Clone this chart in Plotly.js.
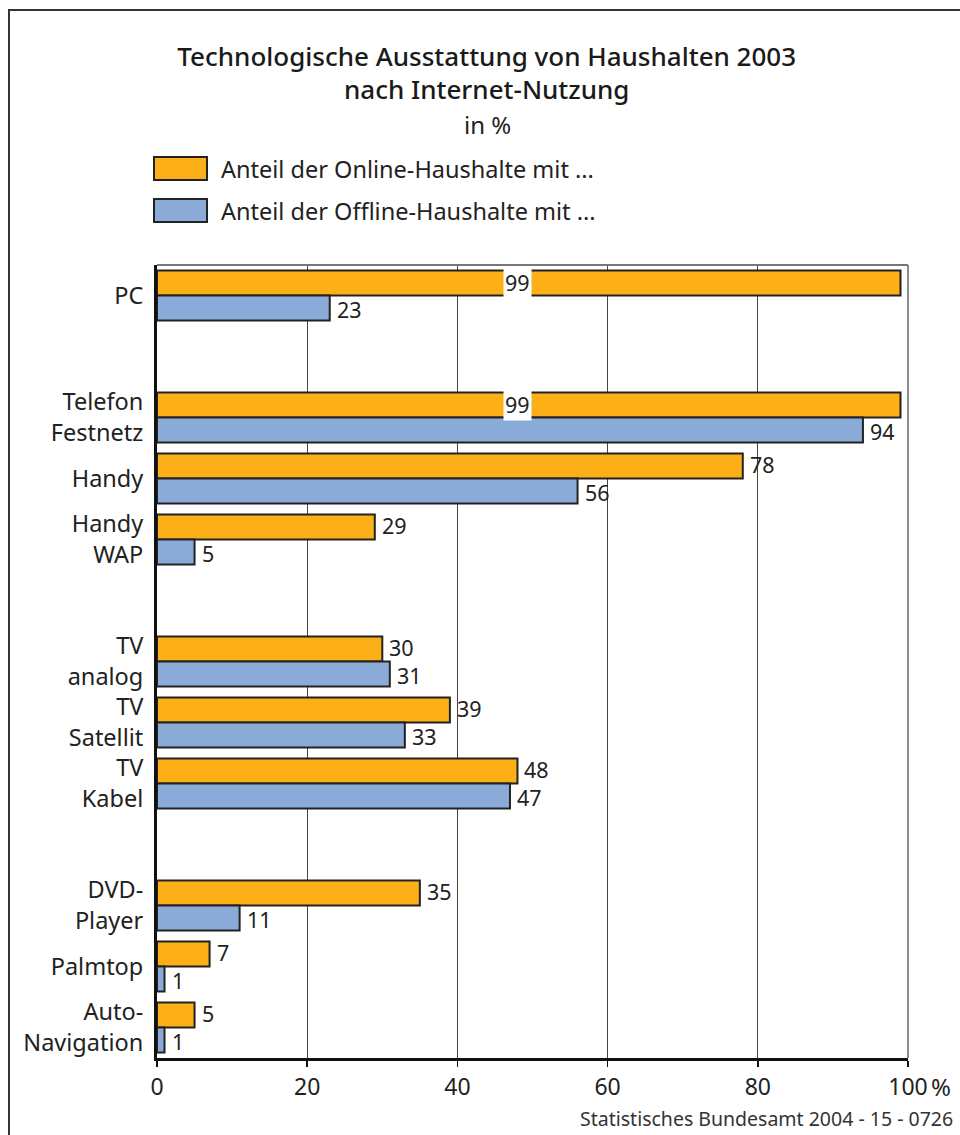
<!DOCTYPE html>
<html>
<head>
<meta charset="utf-8">
<script src="https://cdn.plot.ly/plotly-3.0.1.min.js"></script>
<style>html,body{margin:0;padding:0;background:#fff;}#chart{width:960px;height:1135px;}</style>
</head>
<body>
<div id="chart"></div>
<script>
// ---- data ----
const categories = ["PC", "Telefon<br>Festnetz", "Handy", "Handy<br>WAP", "TV<br>analog", "TV<br>Satellit", "TV<br>Kabel", "DVD-<br>Player", "Palmtop", "Auto-<br>Navigation"];
const axisOrder = ["PC", " ", "Telefon<br>Festnetz", "Handy", "Handy<br>WAP", "  ", "TV<br>analog", "TV<br>Satellit", "TV<br>Kabel", "   ", "DVD-<br>Player", "Palmtop", "Auto-<br>Navigation"];
const onlineValues = [99, 99, 78, 29, 30, 39, 48, 35, 7, 5];
const offlineValues = [23, 94, 56, 5, 31, 33, 47, 11, 1, 1];
const seriesNames = ["Anteil der Online-Haushalte mit ...", "Anteil der Offline-Haushalte mit ..."];
const seriesColors = ["#fcaf17", "#8aabd8"];
const xTickVals = [0, 20, 40, 60, 80, 100];
const xTickText = ["0", "20", "40", "60", "80", "100"];
const titleText = "Technologische Ausstattung von Haushalten 2003<br>nach Internet-Nutzung";
const subtitleText = "in %";
const sourceText = "Statistisches Bundesamt 2004 - 15 - 0726";

const FONT = "Noto Sans, Open Sans, sans-serif";
const TXT = "#222";

const traces = [onlineValues, offlineValues].map((vals, i) => ({
  type: "bar",
  orientation: "h",
  name: seriesNames[i],
  x: vals,
  y: categories,
  marker: {color: seriesColors[i], line: {color: "#222", width: 2}},
  hoverinfo: "x+y",
  showlegend: false
}));

const annotations = [];
[onlineValues, offlineValues].forEach((vals, i) => {
  const shift = i === 0 ? 14 : -14;
  vals.forEach((v, j) => {
    if (v >= 95) {
      annotations.push({x: v / 2 - 1.5, y: categories[j], xref: "x", yref: "y", yshift: 12.7,
        text: String(v), showarrow: false, xanchor: "center", yanchor: "middle",
        bgcolor: "#ffffff", borderpad: 1, font: {family: FONT, size: 21.5, color: TXT}});
    } else {
      annotations.push({x: v, y: categories[j], xref: "x", yref: "y", yshift: shift, xshift: 5,
        text: String(v), showarrow: false, xanchor: "left", yanchor: "middle",
        font: {family: FONT, size: 21.5, color: TXT}});
    }
  });
});

// legend entries (custom, to match the large swatches)
const shapes = [];
[0, 1].forEach(i => {
  const top = 108 - i * 42;
  shapes.push({type: "rect", xref: "paper", yref: "paper", xsizemode: "pixel", ysizemode: "pixel",
    xanchor: 0, yanchor: 1, x0: -3, x1: 50, y0: top - 23, y1: top,
    fillcolor: seriesColors[i], line: {color: "#222", width: 2}});
  annotations.push({xref: "paper", yref: "paper", x: 0, y: 1, xshift: 62, yshift: top - 11.5,
    xanchor: "left", yanchor: "middle", showarrow: false, text: seriesNames[i],
    font: {family: FONT, size: 23.5, color: TXT}});
});

// frame, top and right borders of plot area
shapes.push({type: "rect", xref: "paper", yref: "paper", xsizemode: "pixel", ysizemode: "pixel",
  xanchor: 0, yanchor: 1, x0: -148, x1: 900, y0: -1000, y1: 255, line: {color: "#333", width: 2}, fillcolor: "rgba(0,0,0,0)"});
shapes.push({type: "line", xref: "paper", yref: "paper", x0: 0, x1: 1, y0: 1, y1: 1, line: {color: "#777", width: 2}});
shapes.push({type: "line", xref: "paper", yref: "paper", x0: 1, x1: 1, y0: 0, y1: 1, line: {color: "#666", width: 1.5}});

annotations.push({xref: "paper", yref: "paper", x: 0.44, y: 1, yshift: 141, xanchor: "center", yanchor: "middle",
  showarrow: false, text: subtitleText, font: {family: FONT, size: 24, color: TXT}});
annotations.push({xref: "paper", yref: "paper", x: 1, y: 0, xshift: 33, yshift: -28, xanchor: "center", yanchor: "middle",
  showarrow: false, text: "%", font: {family: FONT, size: 24, color: TXT}});
annotations.push({xref: "paper", yref: "paper", x: 1, y: 0, xshift: 47, yshift: -60, xanchor: "right", yanchor: "middle",
  showarrow: false, text: sourceText, font: {family: FONT, size: 19.5, color: "#333"}});

const layout = {
  width: 960, height: 1135,
  margin: {l: 157, r: 52, t: 265, b: 77},
  paper_bgcolor: "#fff", plot_bgcolor: "#fff",
  font: {family: FONT, color: TXT},
  title: {text: titleText, x: 0.507, xref: "container", xanchor: "center",
    y: 0.9422, yref: "container", yanchor: "top",
    font: {family: FONT, size: 26, color: "#1a1a1a", weight: 500}},
  barmode: "group", bargap: 0.18, bargroupgap: 0,
  xaxis: {range: [0, 100], tickvals: xTickVals, ticktext: xTickText, showgrid: true, gridcolor: "#444", gridwidth: 1.2,
    zeroline: false, showline: true, linecolor: "#111", linewidth: 3, ticks: "outside", ticklen: 6, tickwidth: 1.5,
    tickcolor: "#111", tickfont: {family: FONT, size: 23, color: TXT}, fixedrange: true},
  yaxis: {type: "category", categoryorder: "array", categoryarray: axisOrder, range: [12.5, -0.5],
    showgrid: false, zeroline: false, showline: true, linecolor: "#111", linewidth: 3, ticks: "",
    ticklabelstandoff: 6, tickfont: {family: FONT, size: 23.5, color: TXT}, fixedrange: true},
  shapes: shapes,
  annotations: annotations,
  showlegend: false
};

Plotly.newPlot("chart", traces, layout, {displayModeBar: false, staticPlot: true});
</script>
</body>
</html>
